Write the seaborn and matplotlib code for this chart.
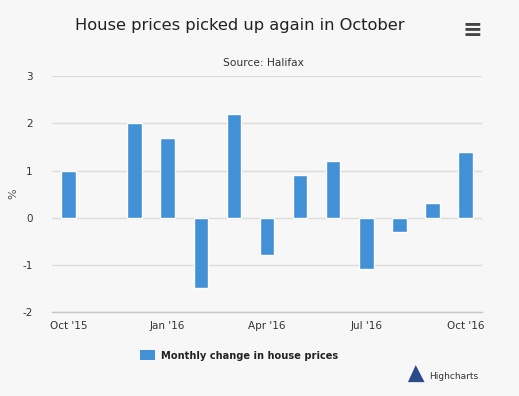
import numpy as np
import pandas as pd
import matplotlib
matplotlib.use('Agg')
import matplotlib.pyplot as plt
import seaborn as sns

# Dane (miesięczna zmiana cen domów, %)
months = ["Oct '15", "Nov '15", "Dec '15", "Jan '16", "Feb '16", "Mar '16", "Apr '16",
          "May '16", "Jun '16", "Jul '16", "Aug '16", "Sep '16", "Oct '16"]
changes = [1.0, np.nan, 2.0, 1.7, -1.5, 2.2, -0.8, 0.9, 1.2, -1.1, -0.3, 0.3, 1.4]
shown_ticks = ["Oct '15", "Jan '16", "Apr '16", "Jul '16", "Oct '16"]
y_ticks = [-2, -1, 0, 1, 2, 3]

bg = '#f7f7f7'
bar_color = '#4290d5'

sns.set_theme(style='white')
plt.rcParams['font.family'] = ['DejaVu Sans']

df = pd.DataFrame({'month': months, 'change': changes})

fig = plt.figure(figsize=(5.19, 3.96), dpi=100, facecolor=bg)
ax = fig.add_axes([0.100, 0.213, 0.829, 0.594])
ax.set_facecolor(bg)

sns.barplot(data=df, x='month', y='change', order=months, color=bar_color,
            width=0.44, errorbar=None, saturation=1, ax=ax)

ax.set_ylim(min(y_ticks), max(y_ticks))
ax.set_xlim(-0.5, len(months) - 0.5)
ax.set_yticks(y_ticks)
ax.set_yticklabels([str(t) for t in y_ticks])
ax.yaxis.grid(True, color='#dcdcdc', linewidth=1)
ax.set_axisbelow(True)

pos = [months.index(m) for m in shown_ticks]
ax.set_xticks(pos)
ax.set_xticklabels(shown_ticks)
ax.tick_params(axis='x', length=6, width=0.8, color='#c8c8c8', pad=1, direction='out',
               labelsize=7.5, labelcolor='#333333')
ax.tick_params(axis='y', length=0, pad=14, labelsize=7.5, labelcolor='#333333')

for s in ['top', 'right', 'left']:
    ax.spines[s].set_visible(False)
ax.spines['bottom'].set_color('#c8c8c8')
ax.spines['bottom'].set_linewidth(1)
ax.spines['bottom'].set_position(('data', min(y_ticks)))

ax.set_xlabel('')
ax.set_ylabel('%', fontsize=8, color='#555555', labelpad=3)

fig.text(0.462, 0.935, 'House prices picked up again in October', ha='center', va='center',
         fontsize=11.7, color='#222222')
fig.text(0.507, 0.841, 'Source: Halifax', ha='center', va='center', fontsize=7.7, color='#333333')
fig.text(0.910, 0.923, '\u2261', ha='center', va='center', fontsize=17, color='#444444',
         fontweight='bold')

# Legenda
fig.patches.append(plt.Rectangle((0.270, 0.091), 0.028, 0.026, transform=fig.transFigure,
                                 facecolor=bar_color, edgecolor='none'))
fig.text(0.310, 0.102, 'Monthly change in house prices', ha='left', va='center',
         fontsize=7.1, fontweight='bold', color='#222222')
fig.text(0.826, 0.050, 'Highcharts', ha='left', va='center', fontsize=6.5, color='#333333')
fig.patches.append(plt.Polygon([[0.786, 0.035], [0.801, 0.078], [0.818, 0.035]],
                               transform=fig.transFigure, facecolor='#2b4a8a', edgecolor='none'))

fig.savefig('out.png', dpi=100, facecolor=bg)
plt.close(fig)
